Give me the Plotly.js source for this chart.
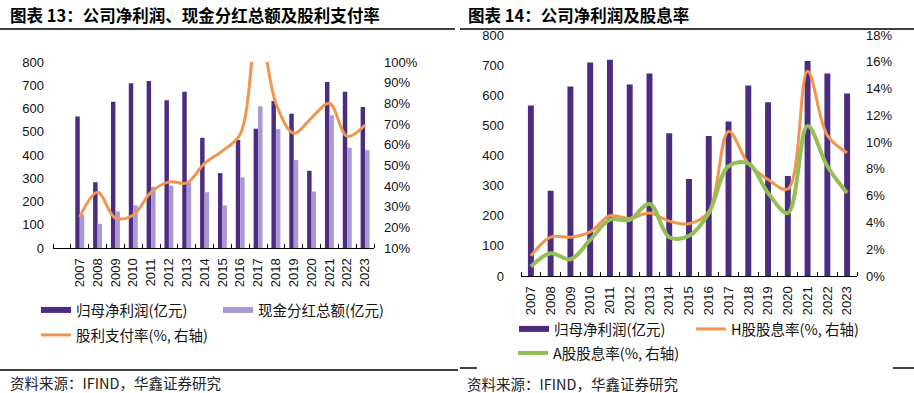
<!DOCTYPE html>
<html><head><meta charset="utf-8">
<script src="https://cdn.plot.ly/plotly-3.0.1.min.js"></script>
<style>html,body{margin:0;padding:0;background:#fff;overflow:hidden}#chart{width:914px;height:393px}</style>
</head><body><div id="chart"></div><script>
// ---- data ----
const years = [2007,2008,2009,2010,2011,2012,2013,2014,2015,2016,2017,2018,2019,2020,2021,2022,2023];
const yearLabels = years.map(String);
const netProfit = [566,283,629,709,718,636,672,474,322,465,513,632,577,332,714,672,606];      // 归母净利润(亿元)
const cashDividend = [143,104,157,183,263,268,281,240,183,304,610,511,378,243,571,431,421];  // 现金分红总额(亿元)
const payoutRatio = [25,37,24.5,26,37,42,41.5,51,57,65,119,80,65.5,73,80,64,69.5];          // 股利支付率(%)
const hYield = [1.5,2.9,2.9,3.3,4.5,4.3,4.7,4.1,3.9,4.8,10.8,8.4,7.2,6.5,15.3,10.5,9.2];    // H股股息率(%)
const aYield = [0.7,1.7,1.25,2.7,4.2,4.2,5.4,2.9,3.0,4.7,8.2,8.4,6.2,4.7,11.2,8.2,6.2];     // A股股息率(%)
const leftYTicks = [0,100,200,300,400,500,600,700,800];

// ---- styling ----
const W = 914, H = 393;
const fx = v => v / W, fy = v => 1 - v / H;
const CJK = '"Noto Sans CJK SC", "Noto Sans", sans-serif';
const NUM = '"Liberation Sans", Arial, sans-serif';
const DARK = '#4B2C80', LIGHT = '#A898D4', ORANGE = '#F2964F', GREEN = '#93BF55';
const tickFont = {family: NUM, size: 13, color: '#111'};
const legFont = {family: CJK, size: 14.5, color: '#111'};

const traces = [
  {type:'bar', x:years, y:netProfit, xaxis:'x', yaxis:'y', width:0.25, offset:-0.25,
   marker:{color:DARK}, showlegend:false, name:'归母净利润(亿元)'},
  {type:'bar', x:years, y:cashDividend, xaxis:'x', yaxis:'y', width:0.25, offset:0,
   marker:{color:LIGHT}, showlegend:false, name:'现金分红总额(亿元)'},
  {type:'scatter', mode:'lines', x:years, y:payoutRatio, xaxis:'x', yaxis:'y2',
   line:{color:ORANGE, width:3, shape:'spline', smoothing:1}, name:'股利支付率(%, 右轴)', legend:'legend3'},
  {type:'scatter', mode:'lines', x:[null], y:[null], xaxis:'x', yaxis:'y',
   line:{color:DARK, width:6}, name:'归母净利润(亿元)', legend:'legend'},
  {type:'scatter', mode:'lines', x:[null], y:[null], xaxis:'x', yaxis:'y',
   line:{color:LIGHT, width:6}, name:'现金分红总额(亿元)', legend:'legend2'},

  {type:'bar', x:years, y:netProfit, xaxis:'x2', yaxis:'y3', width:0.3, offset:-0.15,
   marker:{color:DARK}, showlegend:false, name:'归母净利润(亿元)'},
  {type:'scatter', mode:'lines', x:years, y:hYield, xaxis:'x2', yaxis:'y4',
   line:{color:ORANGE, width:3, shape:'spline', smoothing:1}, name:'H股股息率(%, 右轴)', legend:'legend5'},
  {type:'scatter', mode:'lines', x:years, y:aYield, xaxis:'x2', yaxis:'y4',
   line:{color:GREEN, width:4, shape:'spline', smoothing:1}, name:'A股股息率(%, 右轴)', legend:'legend6'},
  {type:'scatter', mode:'lines', x:[null], y:[null], xaxis:'x2', yaxis:'y3',
   line:{color:DARK, width:6}, name:'归母净利润(亿元)', legend:'legend4'}
];

function xAxis(d0, d1, anchor, r0) {
  return {domain:[fx(d0), fx(d1)], anchor:anchor, range:[r0, 2023.5],
    tickmode:'array', tickvals:years, ticktext:yearLabels, tickangle:-90, ticks:'',
    showline:true, linecolor:'#000', linewidth:1.2, showgrid:false, zeroline:false,
    tickfont:tickFont, ticklabelstandoff:4, fixedrange:true,
    minor:{tickmode:'linear', tick0:r0, dtick:1, ticks:'inside', ticklen:4, tickcolor:'#000', tickwidth:1, showgrid:false}};
}
function yAxis(d0, d1, anchor, range, dtick, extra) {
  return Object.assign({domain:[fy(d1), fy(d0)], anchor:anchor, range:range, dtick:dtick, tick0:range[0],
    showgrid:false, zeroline:false, showline:false, ticks:'', tickfont:tickFont, fixedrange:true}, extra || {});
}
function leg(xpx, ypx) {
  return {x:fx(xpx), y:fy(ypx), xanchor:'left', yanchor:'middle', orientation:'v',
    bgcolor:'rgba(0,0,0,0)', borderwidth:0, font:legFont, itemwidth:30, itemclick:false, itemdoubleclick:false};
}

const layout = {
  width:W, height:H, margin:{l:0, r:0, t:0, b:0},
  paper_bgcolor:'#fff', plot_bgcolor:'rgba(0,0,0,0)',
  barmode:'overlay', showlegend:true,
  xaxis: xAxis(53, 374, 'y', 2005.5),
  yaxis: yAxis(62, 248, 'x', [0,800], 100, {tickvals:leftYTicks, ticklabelstandoff:8}),
  yaxis2: yAxis(62, 248, 'x', [10,100], 10, {overlaying:'y', side:'right', ticksuffix:'%', ticklabelstandoff:9}),
  xaxis2: xAxis(521, 857, 'y3', 2006.5),
  yaxis3: yAxis(35, 276, 'x2', [0,800], 100, {tickvals:leftYTicks, ticklabelstandoff:16}),
  yaxis4: yAxis(35, 276, 'x2', [0,18], 2, {overlaying:'y3', side:'right', ticksuffix:'%', ticklabelstandoff:8}),
  legend: leg(36, 310),
  legend2: leg(218, 310),
  legend3: leg(36, 335),
  legend4: leg(514, 329),
  legend5: leg(691, 329),
  legend6: leg(513, 353),
  annotations: [
    {text:'<b>图表 13：公司净利润、现金分红总额及股利支付率</b>', xref:'paper', yref:'paper', x:fx(8), y:fy(15),
     xanchor:'left', yanchor:'middle', showarrow:false, font:{family:CJK, size:16.5, color:'#000'}},
    {text:'<b>图表 14：公司净利润及股息率</b>', xref:'paper', yref:'paper', x:fx(466), y:fy(15),
     xanchor:'left', yanchor:'middle', showarrow:false, font:{family:CJK, size:16.5, color:'#000'}},
    {text:'资料来源：IFIND，华鑫证券研究', xref:'paper', yref:'paper', x:fx(8), y:fy(382),
     xanchor:'left', yanchor:'middle', showarrow:false, font:{family:CJK, size:14.5, color:'#222'}},
    {text:'资料来源：IFIND，华鑫证券研究', xref:'paper', yref:'paper', x:fx(465), y:fy(383),
     xanchor:'left', yanchor:'middle', showarrow:false, font:{family:CJK, size:14.5, color:'#222'}}
  ],
  shapes: [
    {type:'line', xref:'paper', yref:'paper', x0:0, x1:fx(455), y0:fy(29), y1:fy(29), line:{color:'#000', width:1.5}},
    {type:'line', xref:'paper', yref:'paper', x0:fx(460), x1:1, y0:fy(29), y1:fy(29), line:{color:'#000', width:1.5}},
    {type:'line', xref:'paper', yref:'paper', x0:0, x1:fx(458), y0:fy(370), y1:fy(370), line:{color:'#000', width:1.5}},
    {type:'line', xref:'paper', yref:'paper', x0:fx(460), x1:fx(477), y0:fy(368), y1:fy(368), line:{color:'#000', width:1.5}},
    {type:'line', xref:'paper', yref:'paper', x0:fx(893), x1:1, y0:fy(368), y1:fy(368), line:{color:'#000', width:1.5}}
  ]
};

Plotly.newPlot('chart', traces, layout, {displayModeBar:false, staticPlot:true});
</script></body></html>
